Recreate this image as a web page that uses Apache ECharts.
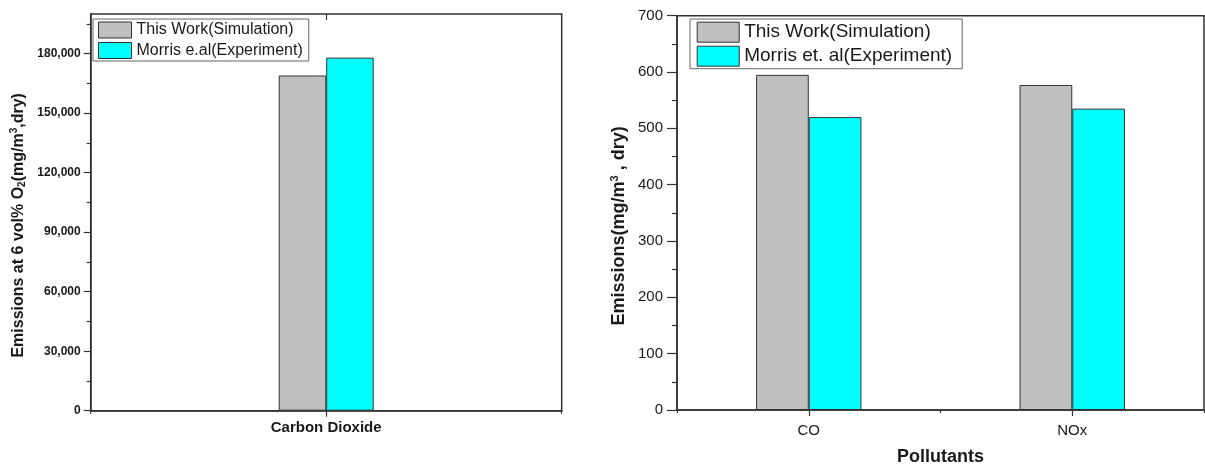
<!DOCTYPE html>
<html>
<head>
<meta charset="utf-8">
<script src="https://cdn.jsdelivr.net/npm/echarts@6/dist/echarts.min.js"></script>
<style>
  html, body { margin: 0; padding: 0; background: #fff; }
  #chart { width: 1205px; height: 471px; }
</style>
</head>
<body>
<div id="chart"></div>
<script>
// Left panel: CO2 emissions
const co2Categories = ['Carbon Dioxide'];
const co2Simulation = [169000];
const co2Experiment = [178000];
const co2TickValues = [0, 30000, 60000, 90000, 120000, 150000, 180000];

// Right panel: CO and NOx emissions
const pollutantCategories = ['CO', 'NOx'];
const pollutantSimulation = [595, 577];
const pollutantExperiment = [520, 535];

const simName = 'This Work(Simulation)';
const expNameLeft = 'Morris e.al(Experiment)';
const expNameRight = 'Morris et. al(Experiment)';

const FONT = '"Liberation Sans", Arial, sans-serif';
const INK = '#1a1a1a';
const LINE = '#333';
const GRAY = '#c0c0c0';
const CYAN = '#00ffff';

function withCommas(v) {
  return String(v).replace(/\B(?=(\d{3})+(?!\d))/g, ',');
}

const chart = echarts.init(document.getElementById('chart'), null, { renderer: 'canvas' });

const barBorder = { borderColor: LINE, borderWidth: 1 };

const option = {
  animation: false,
  backgroundColor: '#fff',
  grid: [
    { left: 90.7, top: 14, width: 471, height: 396.7, show: true, borderColor: LINE, borderWidth: 1.5, backgroundColor: 'transparent' },
    { left: 677, top: 15.7, width: 527, height: 395, show: true, borderColor: LINE, borderWidth: 1.5, backgroundColor: 'transparent' }
  ],
  legend: [
    {
      orient: 'vertical', left: 93, top: 19, padding: [2.5, 6, 2, 5],
      itemWidth: 33, itemHeight: 16, itemGap: 3.5, icon: 'rect', selectedMode: false,
      borderColor: '#666', borderWidth: 1,
      itemStyle: { borderColor: LINE, borderWidth: 1 },
      textStyle: { fontSize: 16, fontFamily: FONT, color: INK, lineHeight: 16 },
      data: [simName, expNameLeft]
    },
    {
      orient: 'vertical', left: 690, top: 19, padding: [2.7, 10, 2, 6.7],
      itemWidth: 42, itemHeight: 20, itemGap: 3, icon: 'rect', selectedMode: false,
      borderColor: '#666', borderWidth: 1,
      itemStyle: { borderColor: LINE, borderWidth: 1 },
      textStyle: { fontSize: 19, fontFamily: FONT, color: INK, lineHeight: 20 },
      data: [simName, expNameRight]
    }
  ],
  xAxis: [
    // 0: left bottom axis with labels, tick under the category
    {
      type: 'category', gridIndex: 0, data: co2Categories, position: 'bottom',
      axisLine: { show: true, lineStyle: { color: LINE, width: 1.5 } },
      axisTick: { show: true, alignWithLabel: true, length: 6, lineStyle: { color: LINE, width: 1.2 } },
      axisLabel: { margin: 10, fontSize: 15, fontWeight: 'bold', fontFamily: FONT, color: INK }
    },
    // 1: right bottom axis with labels
    {
      type: 'category', gridIndex: 1, data: pollutantCategories, position: 'bottom',
      name: 'Pollutants', nameLocation: 'middle', nameGap: 38,
      nameTextStyle: { fontSize: 18, fontWeight: 'bold', fontFamily: FONT, color: INK },
      axisLine: { show: true, lineStyle: { color: LINE, width: 1.5 } },
      axisTick: { show: true, alignWithLabel: true, length: 6, lineStyle: { color: LINE, width: 1.2 } },
      axisLabel: { margin: 13, fontSize: 15, fontFamily: FONT, color: INK }
    },
    // 2: left bottom boundary ticks
    {
      type: 'category', gridIndex: 0, data: co2Categories, position: 'bottom',
      axisLine: { show: false }, axisLabel: { show: false },
      axisTick: { show: true, length: 3, lineStyle: { color: LINE, width: 1.2 } }
    },
    // 3: left top mirror tick
    {
      type: 'category', gridIndex: 0, data: co2Categories, position: 'top',
      axisLine: { show: false }, axisLabel: { show: false },
      axisTick: { show: true, inside: true, alignWithLabel: true, length: 6, lineStyle: { color: LINE, width: 1.2 } }
    },
    // 4: right bottom boundary ticks
    {
      type: 'category', gridIndex: 1, data: pollutantCategories, position: 'bottom',
      axisLine: { show: false }, axisLabel: { show: false },
      axisTick: { show: true, length: 3, lineStyle: { color: LINE, width: 1.2 } }
    }
  ],
  yAxis: [
    {
      type: 'value', gridIndex: 0, min: 0, max: 200000, interval: 30000,
      name: 'Emissions at 6 vol% O{sub|2}(mg/m{sup|3},dry)',
      nameLocation: 'middle', nameGap: 63, nameRotate: 90,
      nameTextStyle: {
        fontSize: 16, fontWeight: 'bold', fontFamily: FONT, color: INK, lineHeight: 18,
        padding: [0, 26, 0, 0],
        rich: {
          sub: { fontSize: 10, fontWeight: 'bold', fontFamily: FONT, color: INK, lineHeight: 10, verticalAlign: 'bottom' },
          sup: { fontSize: 10, fontWeight: 'bold', fontFamily: FONT, color: INK, lineHeight: 10, verticalAlign: 'top' }
        }
      },
      splitLine: { show: false },
      axisLine: { show: true, lineStyle: { color: LINE, width: 1.5 } },
      axisTick: { show: true, length: 7, customValues: co2TickValues, lineStyle: { color: LINE, width: 1.2 } },
      minorTick: { show: true, splitNumber: 2, length: 4, lineStyle: { color: LINE, width: 1.2 } },
      axisLabel: {
        margin: 10, fontSize: 12, fontWeight: 'bold', fontFamily: FONT, color: INK,
        customValues: co2TickValues,
        formatter: withCommas
      }
    },
    {
      type: 'value', gridIndex: 1, min: 0, max: 700, interval: 100,
      name: 'Emissions(mg/m{sup|3} , dry)',
      nameLocation: 'middle', nameGap: 48, nameRotate: 90,
      nameTextStyle: {
        fontSize: 18, fontWeight: 'bold', fontFamily: FONT, color: INK, lineHeight: 20,
        padding: [0, 26, 0, 0],
        rich: {
          sup: { fontSize: 11, fontWeight: 'bold', fontFamily: FONT, color: INK, lineHeight: 11, verticalAlign: 'top' }
        }
      },
      splitLine: { show: false },
      axisLine: { show: true, lineStyle: { color: LINE, width: 1.5 } },
      axisTick: { show: true, length: 10, lineStyle: { color: LINE, width: 1.2 } },
      minorTick: { show: true, splitNumber: 2, length: 5, lineStyle: { color: LINE, width: 1.2 } },
      axisLabel: { margin: 14, fontSize: 15, fontFamily: FONT, color: INK }
    }
  ],
  series: [
    {
      name: simName, type: 'bar', xAxisIndex: 0, yAxisIndex: 0,
      data: co2Simulation, barWidth: 47.5, barGap: '0%',
      itemStyle: Object.assign({ color: GRAY }, barBorder)
    },
    {
      name: expNameLeft, type: 'bar', xAxisIndex: 0, yAxisIndex: 0,
      data: co2Experiment, barWidth: 47.5, barGap: '0%',
      itemStyle: Object.assign({ color: CYAN }, barBorder)
    },
    {
      name: simName, type: 'bar', xAxisIndex: 1, yAxisIndex: 1,
      data: pollutantSimulation, barWidth: 52.7, barGap: '0%',
      itemStyle: Object.assign({ color: GRAY }, barBorder)
    },
    {
      name: expNameRight, type: 'bar', xAxisIndex: 1, yAxisIndex: 1,
      data: pollutantExperiment, barWidth: 52.7, barGap: '0%',
      itemStyle: Object.assign({ color: CYAN }, barBorder)
    }
  ]
};

chart.setOption(option);
</script>
</body>
</html>
